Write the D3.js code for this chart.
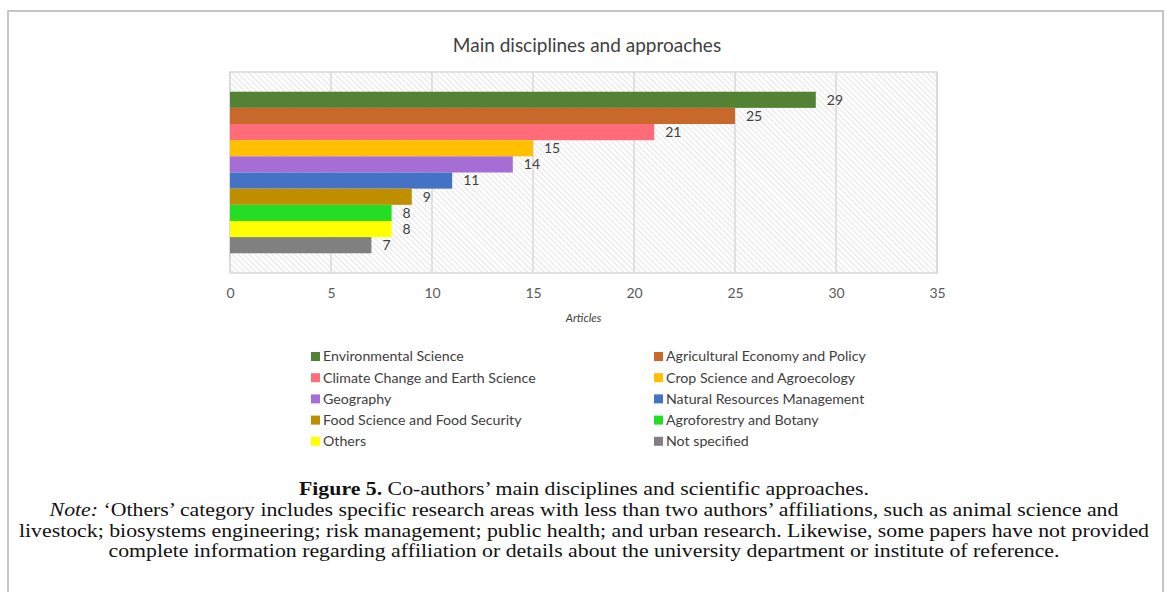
<!DOCTYPE html>
<html>
<head>
<meta charset="utf-8">
<script src="https://cdn.jsdelivr.net/npm/d3@7/dist/d3.min.js"></script>
<style>
  html, body { margin: 0; padding: 0; background: #fff; }
  svg { display: block; }
</style>
</head>
<body>
<svg id="chart" width="1167" height="592"></svg>
<script>
const categories = [
  "Environmental Science",
  "Agricultural Economy and Policy",
  "Climate Change and Earth Science",
  "Crop Science and Agroecology",
  "Geography",
  "Natural Resources Management",
  "Food Science and Food Security",
  "Agroforestry and Botany",
  "Others",
  "Not specified"
];
const values = [29, 25, 21, 15, 14, 11, 9, 8, 8, 7];
const colors = ["#548235", "#C8682A", "#FF6B78", "#FFC000", "#A66DD4", "#4472C4", "#BF8F00", "#24DD24", "#FFFF00", "#808080"];
const xTicks = [0, 5, 10, 15, 20, 25, 30, 35];
const chartTitle = "Main disciplines and approaches";
const xAxisTitle = "Articles";
const captionLines = [
  [{t: "Figure 5.", w: "bold"}, {t: " Co-authors\u2019 main disciplines and scientific approaches."}],
  [{t: "Note:", s: "italic"}, {t: " \u2018Others\u2019 category includes specific research areas with less than two authors\u2019 affiliations, such as animal science and"}],
  [{t: "livestock; biosystems engineering; risk management; public health; and urban research. Likewise, some papers have not provided"}],
  [{t: "complete information regarding affiliation or details about the university department or institute of reference."}]
];

const svg = d3.select("#chart");
const sans = "Lato, 'Open Sans', sans-serif";
const serif = "'Liberation Serif', 'DejaVu Serif', serif";

// frame
svg.append("path")
  .attr("d", "M8,600 L8,11 L1163,11 L1163,600")
  .attr("fill", "none").attr("stroke", "#c6c6c6").attr("stroke-width", 2);

const plot = {left: 230, right: 937, top: 72, bottom: 273};

const x = d3.scaleLinear().domain([0, 35]).range([plot.left, plot.right]);
const y = d3.scaleBand().domain(categories).range([plot.top, plot.bottom]).paddingInner(0).paddingOuter(1.22);

// hatch pattern
const defs = svg.append("defs");
const pat = defs.append("pattern").attr("id", "hatch").attr("patternUnits", "userSpaceOnUse")
  .attr("width", 4).attr("height", 4).attr("patternTransform", "rotate(-45)");
pat.append("rect").attr("width", 4).attr("height", 4).attr("fill", "#ffffff");
pat.append("line").attr("x1", 0).attr("y1", 0).attr("x2", 0).attr("y2", 4)
  .attr("stroke", "#d4d4d4").attr("stroke-width", 1.2);

svg.append("rect").attr("x", plot.left).attr("y", plot.top)
  .attr("width", plot.right - plot.left).attr("height", plot.bottom - plot.top)
  .attr("fill", "url(#hatch)");

// gridlines
svg.append("g").selectAll("line").data(xTicks).join("line")
  .attr("x1", d => x(d)).attr("x2", d => x(d))
  .attr("y1", plot.top).attr("y2", plot.bottom)
  .attr("stroke", "#d9d9d9").attr("stroke-width", 1.5);

svg.append("rect").attr("x", plot.left).attr("y", plot.top)
  .attr("width", plot.right - plot.left).attr("height", plot.bottom - plot.top)
  .attr("fill", "none").attr("stroke", "#d9d9d9").attr("stroke-width", 1.5);

// bars
svg.append("g").selectAll("rect").data(categories).join("rect")
  .attr("x", x(0)).attr("y", d => y(d))
  .attr("width", (d, i) => x(values[i]) - x(0))
  .attr("height", y.bandwidth())
  .attr("fill", (d, i) => colors[i]);

// data labels
svg.append("g").selectAll("text").data(categories).join("text")
  .attr("x", (d, i) => x(values[i]) + 11)
  .attr("y", d => y(d) + y.bandwidth() / 2)
  .attr("dy", "0.35em")
  .attr("font-family", sans).attr("font-size", 14).attr("fill", "#404040")
  .text((d, i) => values[i]);

// x axis (tick labels only)
const xAxis = d3.axisBottom(x).tickValues(xTicks).tickSize(0).tickPadding(0);
const ax = svg.append("g").attr("transform", `translate(0,${plot.bottom})`).call(xAxis);
ax.select(".domain").remove();
ax.selectAll("text").attr("y", 20).attr("dy", "0.35em")
  .attr("font-family", sans).attr("font-size", 14).attr("fill", "#595959");

// axis title
svg.append("text").attr("x", (plot.left + plot.right) / 2).attr("y", 318).attr("dy", "0.35em")
  .attr("text-anchor", "middle").attr("font-family", sans).attr("font-style", "italic")
  .attr("font-size", 11.5).attr("fill", "#404040").text(xAxisTitle);

// chart title
svg.append("text").attr("x", 587).attr("y", 45).attr("dy", "0.35em")
  .attr("text-anchor", "middle").attr("font-family", sans)
  .attr("font-size", 19).attr("fill", "#404040").text(chartTitle);

// legend
const legX = [311, 654];
const leg = svg.append("g").selectAll("g").data(categories).join("g")
  .attr("transform", (d, i) => `translate(${legX[i % 2]},${356.5 + Math.floor(i / 2) * 21.2})`);
leg.append("rect").attr("x", 0).attr("y", -4.5).attr("width", 9).attr("height", 9)
  .attr("fill", (d, i) => colors[i]);
leg.append("text").attr("x", 12).attr("y", 0).attr("dy", "0.35em")
  .attr("font-family", sans).attr("font-size", 14.2).attr("fill", "#404040").text(d => d);

// caption
const capY = [495, 516, 537, 557];
const capNodes = captionLines.map((parts, i) => {
  const t = svg.append("text").attr("x", 584).attr("y", capY[i]).attr("text-anchor", "middle")
    .attr("font-family", serif).attr("font-size", 19).attr("fill", "#111");
  parts.forEach(p => {
    t.append("tspan").attr("font-weight", p.w || null).attr("font-style", p.s || null).text(p.t);
  });
  return t;
});
const natural = capNodes.map(t => t.node().getComputedTextLength());
const k = 1130 / natural[2];
capNodes.forEach((t, i) => {
  t.attr("textLength", natural[i] * k).attr("lengthAdjust", "spacingAndGlyphs");
});
</script>
</body>
</html>
